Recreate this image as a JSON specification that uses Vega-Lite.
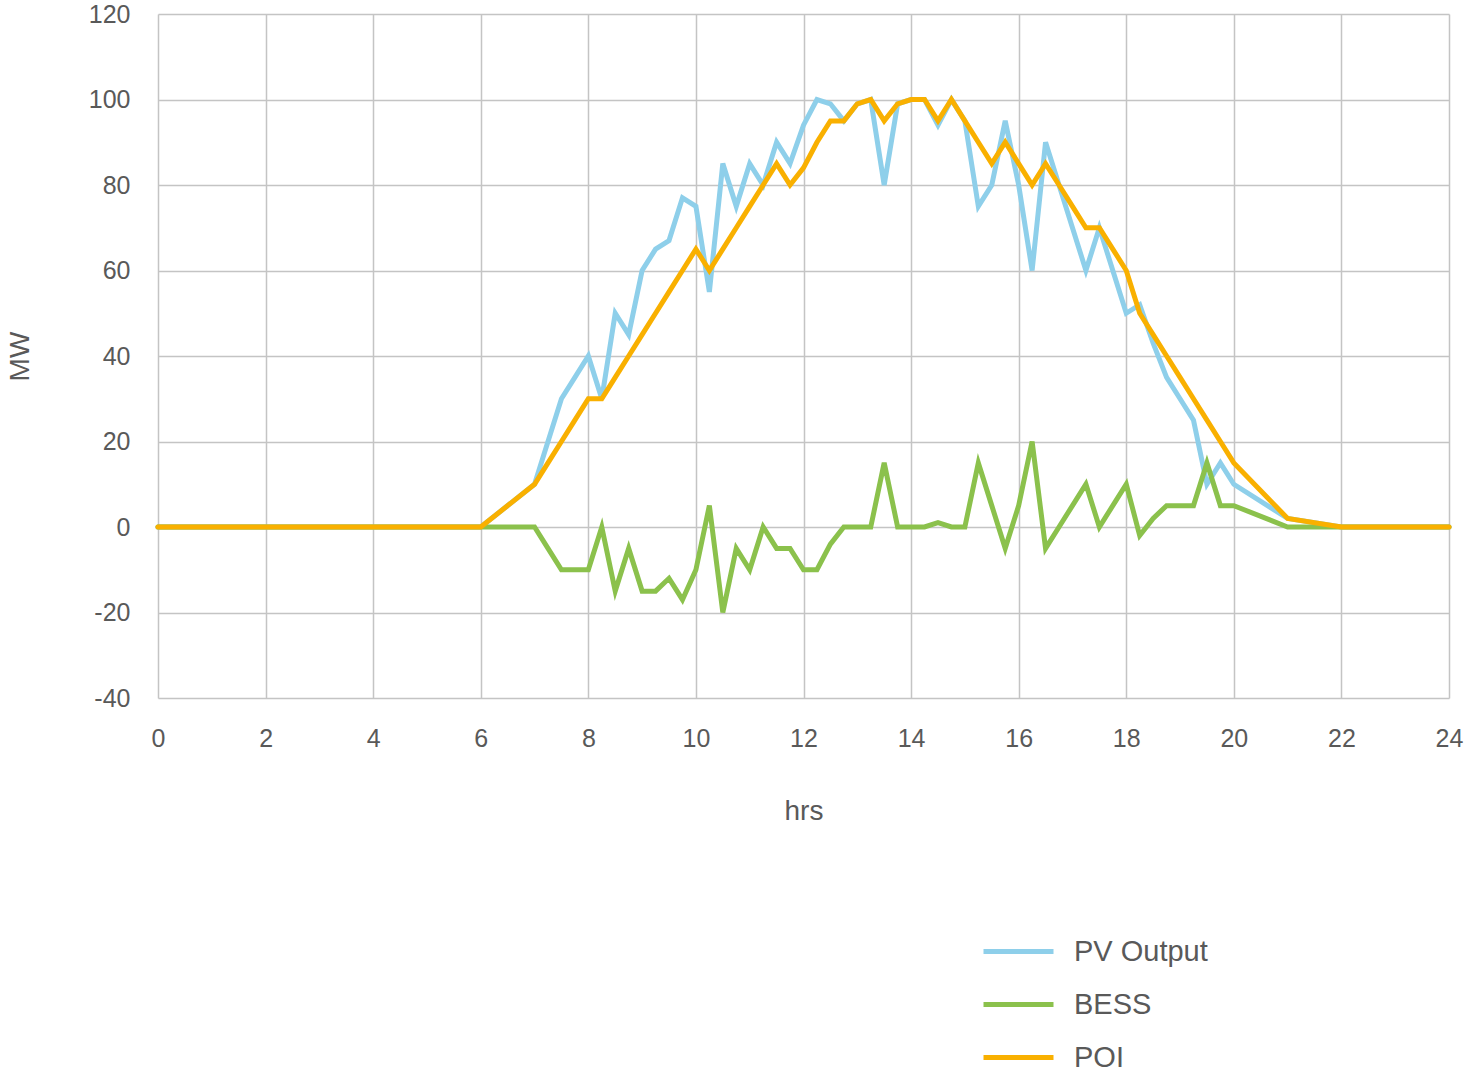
{
  "$schema": "https://vega.github.io/schema/vega-lite/v6.json",
  "autosize": "none",
  "width": 1291,
  "height": 684,
  "padding": {"left": 158, "top": 14, "right": 18, "bottom": 382},
  "background": "white",
  "config": {
    "view": {"stroke": null},
    "font": "Liberation Sans",
    "axis": {
      "domain": false,
      "ticks": false,
      "gridColor": "#c4c4c4",
      "gridWidth": 1.5,
      "labelFont": "Liberation Sans",
      "labelFontSize": 25,
      "labelColor": "#595959",
      "titleFont": "Liberation Sans",
      "titleFontSize": 28,
      "titleFontWeight": "normal",
      "titleColor": "#595959"
    },
    "legend": {
      "labelFont": "Liberation Sans",
      "labelFontSize": 29,
      "labelColor": "#595959"
    }
  },
  "data": {
    "values": [
      {"h": 0, "series": "PV Output", "MW": 0},
      {"h": 6, "series": "PV Output", "MW": 0},
      {"h": 7, "series": "PV Output", "MW": 10},
      {"h": 7.25, "series": "PV Output", "MW": 20},
      {"h": 7.5, "series": "PV Output", "MW": 30},
      {"h": 7.75, "series": "PV Output", "MW": 35},
      {"h": 8, "series": "PV Output", "MW": 40},
      {"h": 8.25, "series": "PV Output", "MW": 30},
      {"h": 8.5, "series": "PV Output", "MW": 50},
      {"h": 8.75, "series": "PV Output", "MW": 45},
      {"h": 9, "series": "PV Output", "MW": 60},
      {"h": 9.25, "series": "PV Output", "MW": 65},
      {"h": 9.5, "series": "PV Output", "MW": 67},
      {"h": 9.75, "series": "PV Output", "MW": 77},
      {"h": 10, "series": "PV Output", "MW": 75},
      {"h": 10.25, "series": "PV Output", "MW": 55},
      {"h": 10.5, "series": "PV Output", "MW": 85},
      {"h": 10.75, "series": "PV Output", "MW": 75},
      {"h": 11, "series": "PV Output", "MW": 85},
      {"h": 11.25, "series": "PV Output", "MW": 80},
      {"h": 11.5, "series": "PV Output", "MW": 90},
      {"h": 11.75, "series": "PV Output", "MW": 85},
      {"h": 12, "series": "PV Output", "MW": 94},
      {"h": 12.25, "series": "PV Output", "MW": 100},
      {"h": 12.5, "series": "PV Output", "MW": 99},
      {"h": 12.75, "series": "PV Output", "MW": 95},
      {"h": 13, "series": "PV Output", "MW": 99},
      {"h": 13.25, "series": "PV Output", "MW": 100},
      {"h": 13.5, "series": "PV Output", "MW": 80},
      {"h": 13.75, "series": "PV Output", "MW": 99},
      {"h": 14, "series": "PV Output", "MW": 100},
      {"h": 14.25, "series": "PV Output", "MW": 100},
      {"h": 14.5, "series": "PV Output", "MW": 94},
      {"h": 14.75, "series": "PV Output", "MW": 100},
      {"h": 15, "series": "PV Output", "MW": 95},
      {"h": 15.25, "series": "PV Output", "MW": 75},
      {"h": 15.5, "series": "PV Output", "MW": 80},
      {"h": 15.75, "series": "PV Output", "MW": 95},
      {"h": 16, "series": "PV Output", "MW": 80},
      {"h": 16.25, "series": "PV Output", "MW": 60},
      {"h": 16.5, "series": "PV Output", "MW": 90},
      {"h": 16.75, "series": "PV Output", "MW": 80},
      {"h": 17, "series": "PV Output", "MW": 70},
      {"h": 17.25, "series": "PV Output", "MW": 60},
      {"h": 17.5, "series": "PV Output", "MW": 70},
      {"h": 17.75, "series": "PV Output", "MW": 60},
      {"h": 18, "series": "PV Output", "MW": 50},
      {"h": 18.25, "series": "PV Output", "MW": 52},
      {"h": 18.5, "series": "PV Output", "MW": 43},
      {"h": 18.75, "series": "PV Output", "MW": 35},
      {"h": 19, "series": "PV Output", "MW": 30},
      {"h": 19.25, "series": "PV Output", "MW": 25},
      {"h": 19.5, "series": "PV Output", "MW": 10},
      {"h": 19.75, "series": "PV Output", "MW": 15},
      {"h": 20, "series": "PV Output", "MW": 10},
      {"h": 21, "series": "PV Output", "MW": 2},
      {"h": 22, "series": "PV Output", "MW": 0},
      {"h": 24, "series": "PV Output", "MW": 0},

      {"h": 0, "series": "BESS", "MW": 0},
      {"h": 6, "series": "BESS", "MW": 0},
      {"h": 7, "series": "BESS", "MW": 0},
      {"h": 7.25, "series": "BESS", "MW": -5},
      {"h": 7.5, "series": "BESS", "MW": -10},
      {"h": 7.75, "series": "BESS", "MW": -10},
      {"h": 8, "series": "BESS", "MW": -10},
      {"h": 8.25, "series": "BESS", "MW": 0},
      {"h": 8.5, "series": "BESS", "MW": -15},
      {"h": 8.75, "series": "BESS", "MW": -5},
      {"h": 9, "series": "BESS", "MW": -15},
      {"h": 9.25, "series": "BESS", "MW": -15},
      {"h": 9.5, "series": "BESS", "MW": -12},
      {"h": 9.75, "series": "BESS", "MW": -17},
      {"h": 10, "series": "BESS", "MW": -10},
      {"h": 10.25, "series": "BESS", "MW": 5},
      {"h": 10.5, "series": "BESS", "MW": -20},
      {"h": 10.75, "series": "BESS", "MW": -5},
      {"h": 11, "series": "BESS", "MW": -10},
      {"h": 11.25, "series": "BESS", "MW": 0},
      {"h": 11.5, "series": "BESS", "MW": -5},
      {"h": 11.75, "series": "BESS", "MW": -5},
      {"h": 12, "series": "BESS", "MW": -10},
      {"h": 12.25, "series": "BESS", "MW": -10},
      {"h": 12.5, "series": "BESS", "MW": -4},
      {"h": 12.75, "series": "BESS", "MW": 0},
      {"h": 13, "series": "BESS", "MW": 0},
      {"h": 13.25, "series": "BESS", "MW": 0},
      {"h": 13.5, "series": "BESS", "MW": 15},
      {"h": 13.75, "series": "BESS", "MW": 0},
      {"h": 14, "series": "BESS", "MW": 0},
      {"h": 14.25, "series": "BESS", "MW": 0},
      {"h": 14.5, "series": "BESS", "MW": 1},
      {"h": 14.75, "series": "BESS", "MW": 0},
      {"h": 15, "series": "BESS", "MW": 0},
      {"h": 15.25, "series": "BESS", "MW": 15},
      {"h": 15.5, "series": "BESS", "MW": 5},
      {"h": 15.75, "series": "BESS", "MW": -5},
      {"h": 16, "series": "BESS", "MW": 5},
      {"h": 16.25, "series": "BESS", "MW": 20},
      {"h": 16.5, "series": "BESS", "MW": -5},
      {"h": 16.75, "series": "BESS", "MW": 0},
      {"h": 17, "series": "BESS", "MW": 5},
      {"h": 17.25, "series": "BESS", "MW": 10},
      {"h": 17.5, "series": "BESS", "MW": 0},
      {"h": 17.75, "series": "BESS", "MW": 5},
      {"h": 18, "series": "BESS", "MW": 10},
      {"h": 18.25, "series": "BESS", "MW": -2},
      {"h": 18.5, "series": "BESS", "MW": 2},
      {"h": 18.75, "series": "BESS", "MW": 5},
      {"h": 19, "series": "BESS", "MW": 5},
      {"h": 19.25, "series": "BESS", "MW": 5},
      {"h": 19.5, "series": "BESS", "MW": 15},
      {"h": 19.75, "series": "BESS", "MW": 5},
      {"h": 20, "series": "BESS", "MW": 5},
      {"h": 21, "series": "BESS", "MW": 0},
      {"h": 22, "series": "BESS", "MW": 0},
      {"h": 24, "series": "BESS", "MW": 0},

      {"h": 0, "series": "POI", "MW": 0},
      {"h": 6, "series": "POI", "MW": 0},
      {"h": 7, "series": "POI", "MW": 10},
      {"h": 7.25, "series": "POI", "MW": 15},
      {"h": 7.5, "series": "POI", "MW": 20},
      {"h": 7.75, "series": "POI", "MW": 25},
      {"h": 8, "series": "POI", "MW": 30},
      {"h": 8.25, "series": "POI", "MW": 30},
      {"h": 8.5, "series": "POI", "MW": 35},
      {"h": 8.75, "series": "POI", "MW": 40},
      {"h": 9, "series": "POI", "MW": 45},
      {"h": 9.25, "series": "POI", "MW": 50},
      {"h": 9.5, "series": "POI", "MW": 55},
      {"h": 9.75, "series": "POI", "MW": 60},
      {"h": 10, "series": "POI", "MW": 65},
      {"h": 10.25, "series": "POI", "MW": 60},
      {"h": 10.5, "series": "POI", "MW": 65},
      {"h": 10.75, "series": "POI", "MW": 70},
      {"h": 11, "series": "POI", "MW": 75},
      {"h": 11.25, "series": "POI", "MW": 80},
      {"h": 11.5, "series": "POI", "MW": 85},
      {"h": 11.75, "series": "POI", "MW": 80},
      {"h": 12, "series": "POI", "MW": 84},
      {"h": 12.25, "series": "POI", "MW": 90},
      {"h": 12.5, "series": "POI", "MW": 95},
      {"h": 12.75, "series": "POI", "MW": 95},
      {"h": 13, "series": "POI", "MW": 99},
      {"h": 13.25, "series": "POI", "MW": 100},
      {"h": 13.5, "series": "POI", "MW": 95},
      {"h": 13.75, "series": "POI", "MW": 99},
      {"h": 14, "series": "POI", "MW": 100},
      {"h": 14.25, "series": "POI", "MW": 100},
      {"h": 14.5, "series": "POI", "MW": 95},
      {"h": 14.75, "series": "POI", "MW": 100},
      {"h": 15, "series": "POI", "MW": 95},
      {"h": 15.25, "series": "POI", "MW": 90},
      {"h": 15.5, "series": "POI", "MW": 85},
      {"h": 15.75, "series": "POI", "MW": 90},
      {"h": 16, "series": "POI", "MW": 85},
      {"h": 16.25, "series": "POI", "MW": 80},
      {"h": 16.5, "series": "POI", "MW": 85},
      {"h": 16.75, "series": "POI", "MW": 80},
      {"h": 17, "series": "POI", "MW": 75},
      {"h": 17.25, "series": "POI", "MW": 70},
      {"h": 17.5, "series": "POI", "MW": 70},
      {"h": 17.75, "series": "POI", "MW": 65},
      {"h": 18, "series": "POI", "MW": 60},
      {"h": 18.25, "series": "POI", "MW": 50},
      {"h": 18.5, "series": "POI", "MW": 45},
      {"h": 18.75, "series": "POI", "MW": 40},
      {"h": 19, "series": "POI", "MW": 35},
      {"h": 19.25, "series": "POI", "MW": 30},
      {"h": 19.5, "series": "POI", "MW": 25},
      {"h": 19.75, "series": "POI", "MW": 20},
      {"h": 20, "series": "POI", "MW": 15},
      {"h": 21, "series": "POI", "MW": 2},
      {"h": 22, "series": "POI", "MW": 0},
      {"h": 24, "series": "POI", "MW": 0}
    ]
  },
  "mark": {"type": "line", "strokeWidth": 5, "strokeCap": "round", "clip": false},
  "encoding": {
    "x": {
      "field": "h",
      "type": "quantitative",
      "title": "hrs",
      "scale": {"domain": [0, 24], "nice": false},
      "axis": {
        "values": [0, 2, 4, 6, 8, 10, 12, 14, 16, 18, 20, 22, 24],
        "labelPadding": 28,
        "titlePadding": 46,
        "labelFlush": false
      }
    },
    "y": {
      "field": "MW",
      "type": "quantitative",
      "title": "MW",
      "scale": {"domain": [-40, 120], "nice": false},
      "axis": {
        "values": [-40, -20, 0, 20, 40, 60, 80, 100, 120],
        "labelExpr": "datum.value < 0 ? '-' + abs(datum.value) : '' + datum.value",
        "labelPadding": 28,
        "titlePadding": 54
      }
    },
    "color": {
      "field": "series",
      "type": "nominal",
      "sort": null,
      "scale": {
        "domain": ["PV Output", "BESS", "POI"],
        "range": ["#8ecfea", "#8bc14c", "#f9b000"]
      },
      "legend": {
        "title": null,
        "orient": "none",
        "legendX": 823,
        "legendY": 900,
        "symbolType": "stroke",
        "symbolSize": 4900,
        "symbolStrokeWidth": 5,
        "labelOffset": 18,
        "rowPadding": -2
      }
    }
  }
}
